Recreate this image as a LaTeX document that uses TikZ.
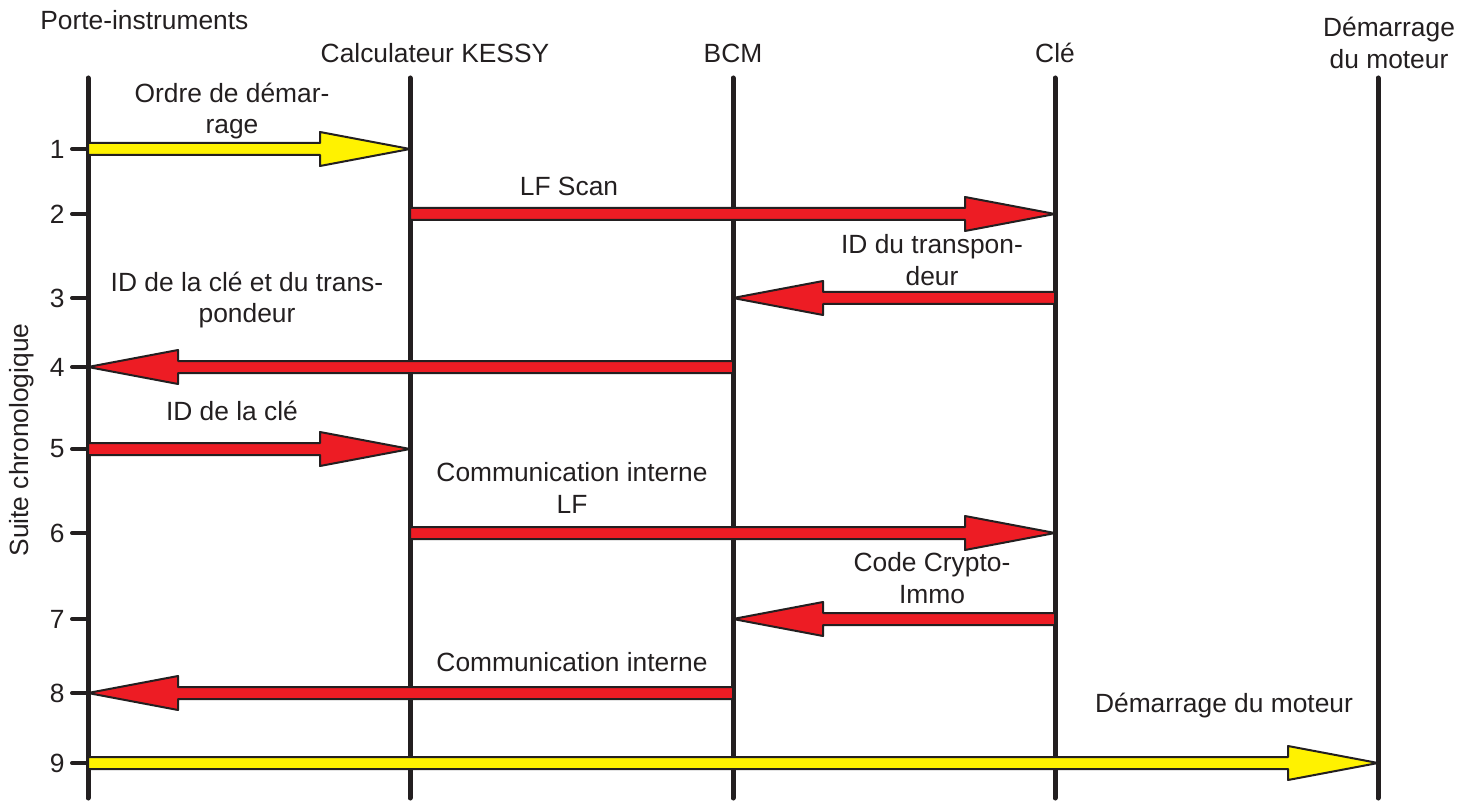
\documentclass[tikz,border=0pt]{standalone}
\usepackage{fontspec}
\setmainfont{Liberation Sans}
\usetikzlibrary{calc, positioning}
\definecolor{lnblack}{HTML}{231F20}
\definecolor{sigred}{HTML}{ED1C24}
\definecolor{sigyellow}{HTML}{FFF200}

\tikzset{
  lbl/.style={text=lnblack, font=\fontsize{15}{18}\selectfont, align=center, inner sep=0pt},
  lifeline/.style={lnblack, line width=1mm, line cap=round},
  tickmark/.style={lnblack, line width=0.8mm, line cap=round},
}

% block arrow from #1 to #2, filled with #3
\newcommand{\msgarrow}[3]{%
  \coordinate (hb) at ($(#2)!18mm!(#1)$);
  \filldraw[fill=#3, draw=lnblack, line width=0.4mm, line join=round]
    ($(#1)+(0,-6)$) -- ($(hb)+(0,-6)$) -- ($(hb)+(0,-17)$) -- (#2)
    -- ($(hb)+(0,17)$) -- ($(hb)+(0,6)$) -- ($(#1)+(0,6)$) -- cycle;
}

\begin{document}
\begin{tikzpicture}[x=0.2mm, y=-0.2mm]
\useasboundingbox (0,0) rectangle (1473,801);

% 1 unit = 1 px of the 1473x801 frame, y downwards
% lifelines and their message rows
\foreach \name/\xx in {pi/88, kessy/410, bcm/733, cle/1055, mot/1378} {
  \coordinate (\name-top) at (\xx,78);
  \coordinate (\name-bot) at (\xx,798);
  \foreach \r/\yy in {1/149, 2/214, 3/298, 4/367, 5/449, 6/533, 7/619, 8/693, 9/763}
    \coordinate (\name-\r) at (\xx,\yy);
}

\foreach \name in {pi, kessy, bcm, cle, mot}
  \draw[lifeline] (\name-top) -- (\name-bot);

% Headers
\node[lbl, anchor=west] (hdr-pi) at (40,20) {Porte-instruments};
\node[lbl] (hdr-kessy) at (435,53) {Calculateur KESSY};
\node[lbl] (hdr-bcm) at (733,53) {BCM};
\node[lbl] (hdr-cle) at (1055,53) {Clé};
\node[lbl] (hdr-mot) at (1389,43) {Démarrage\\du moteur};

% Time axis
\node[lbl, rotate=90] (axis-lbl) at (22,440) {Suite chronologique};
\foreach \r in {1,...,9} {
  \draw[tickmark] ($(pi-\r)+(-16,0)$) -- (pi-\r);
  \node[lbl, anchor=east] (num-\r) at ($(pi-\r)+(-23,0)$) {\r};
}

% Messages
\msgarrow{pi-1}{kessy-1}{sigyellow}
\msgarrow{kessy-2}{cle-2}{sigred}
\msgarrow{cle-3}{bcm-3}{sigred}
\msgarrow{bcm-4}{pi-4}{sigred}
\msgarrow{pi-5}{kessy-5}{sigred}
\msgarrow{kessy-6}{cle-6}{sigred}
\msgarrow{cle-7}{bcm-7}{sigred}
\msgarrow{bcm-8}{pi-8}{sigred}
\msgarrow{pi-9}{mot-9}{sigyellow}

% Message labels
\node[lbl] (m1) at (232,111) {Ordre de démar-\\rage};
\node[lbl] (m2) at (569,186) {LF Scan};
\node[lbl] (m3) at (932,260) {ID du transpon-\\deur};
\node[lbl] (m4) at (247,300) {ID de la clé et du trans-\\pondeur};
\node[lbl] (m5) at (232,411) {ID de la clé};
\node[lbl] (m6) at (572,488) {Communication interne\\LF};
\node[lbl] (m7) at (932,578) {Code Crypto-\\Immo};
\node[lbl] (m8) at (572,662) {Communication interne};
\node[lbl] (m9) at (1224,706) {Démarrage du moteur};

\end{tikzpicture}
\end{document}
